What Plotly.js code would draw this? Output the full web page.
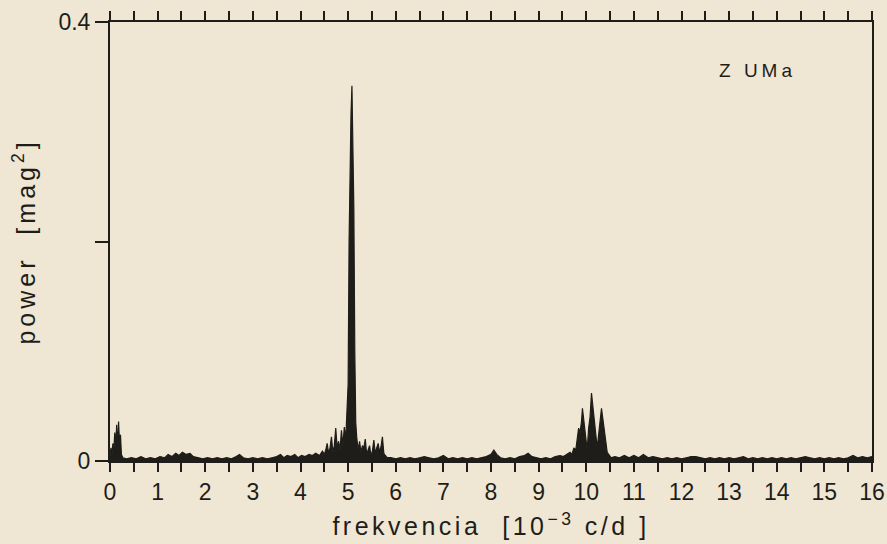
<!DOCTYPE html>
<html>
<head>
<meta charset="utf-8">
<script src="https://cdn.plot.ly/plotly-3.0.1.min.js"></script>
<style>
  html, body { margin: 0; padding: 0; background: #efe7d3; }
  #chart { width: 887px; height: 544px; }
</style>
</head>
<body>
<div id="chart"></div>
<script>
// Frequency [10^-3 c/d]
const freq = [
  0.00,0.02,0.04,0.06,0.08,0.10,0.12,0.14,0.16,0.18,0.20,0.22,0.24,0.27,
  0.35,0.45,0.55,0.65,0.75,0.85,0.95,1.05,1.15,1.22,1.30,1.38,1.45,1.52,1.60,1.68,1.75,1.85,1.95,2.05,2.15,2.25,2.35,2.45,2.55,2.65,2.72,2.80,2.90,3.00,3.10,3.20,3.30,3.40,3.50,3.58,3.65,3.72,3.80,3.88,3.95,4.02,4.10,4.18,4.25,4.32,4.40,4.46,
  4.50,4.53,4.56,4.59,4.62,4.65,4.68,4.71,4.74,4.77,4.80,4.83,4.86,4.89,4.92,4.95,4.98,
  5.00,5.02,5.04,5.06,5.08,5.10,5.12,5.14,5.16,5.18,
  5.21,5.24,5.27,5.30,5.33,5.36,5.39,5.42,5.45,5.48,5.51,5.54,5.57,5.60,5.63,5.66,5.69,5.72,5.75,5.78,5.82,
  5.90,6.00,6.10,6.20,6.30,6.40,6.50,6.60,6.70,6.80,6.90,7.00,7.10,7.20,7.30,7.40,7.50,7.60,7.70,7.80,7.90,8.00,
  8.06,8.12,8.20,8.30,8.40,8.50,8.60,8.70,8.78,8.86,8.95,9.05,9.15,9.25,9.35,9.45,9.52,9.60,9.66,
  9.70,9.74,9.78,9.81,9.84,9.87,9.90,9.92,9.94,9.96,9.99,10.02,10.05,10.08,10.11,10.14,10.17,10.20,10.23,10.26,10.29,10.32,10.35,10.38,10.41,10.44,10.48,10.52,
  10.60,10.70,10.80,10.90,11.00,11.10,11.20,11.30,11.40,11.50,11.60,11.70,11.80,11.90,12.00,12.10,12.20,12.30,12.40,12.50,12.60,12.70,12.80,12.90,13.00,
  13.10,13.20,13.30,13.40,13.50,13.60,13.70,13.80,13.90,14.00,14.10,14.20,14.30,14.40,14.50,14.60,14.70,14.80,14.90,15.00,15.10,15.20,15.30,15.40,15.50,15.60,15.70,15.80,15.90,16.00
];

// Power [mag^2]
const power = [
  0.004,0.012,0.006,0.016,0.009,0.026,0.014,0.033,0.012,0.036,0.016,0.024,0.006,0.003,
  0.002,0.003,0.002,0.004,0.002,0.003,0.002,0.004,0.003,0.006,0.004,0.007,0.005,0.008,0.006,0.007,0.004,0.003,0.002,0.003,0.002,0.003,0.002,0.003,0.002,0.004,0.006,0.003,0.002,0.003,0.002,0.003,0.002,0.003,0.004,0.006,0.003,0.005,0.004,0.006,0.003,0.005,0.004,0.006,0.005,0.007,0.005,0.009,
  0.006,0.010,0.016,0.007,0.012,0.022,0.008,0.014,0.030,0.012,0.018,0.010,0.028,0.014,0.031,0.020,0.045,
  0.070,0.200,0.280,0.315,0.342,0.300,0.230,0.100,0.035,0.022,
  0.010,0.018,0.008,0.014,0.012,0.020,0.006,0.010,0.014,0.005,0.009,0.019,0.007,0.012,0.016,0.008,0.013,0.022,0.007,0.005,0.003,
  0.003,0.002,0.003,0.002,0.003,0.002,0.003,0.004,0.003,0.002,0.003,0.005,0.002,0.003,0.002,0.003,0.002,0.003,0.002,0.003,0.004,0.006,
  0.010,0.006,0.003,0.002,0.003,0.002,0.004,0.005,0.007,0.004,0.003,0.002,0.003,0.002,0.004,0.005,0.004,0.006,0.008,
  0.006,0.012,0.010,0.022,0.030,0.026,0.036,0.048,0.040,0.030,0.016,0.010,0.030,0.040,0.062,0.050,0.042,0.028,0.012,0.024,0.036,0.048,0.038,0.030,0.018,0.008,0.005,0.003,
  0.004,0.003,0.005,0.003,0.005,0.003,0.006,0.003,0.004,0.003,0.002,0.003,0.002,0.003,0.002,0.003,0.004,0.004,0.003,0.002,0.003,0.002,0.003,0.002,0.003,
  0.002,0.003,0.004,0.002,0.003,0.002,0.003,0.002,0.003,0.002,0.003,0.002,0.003,0.002,0.003,0.004,0.003,0.002,0.003,0.002,0.003,0.002,0.003,0.002,0.003,0.005,0.003,0.004,0.003,0.004
];

const xTickVals = [0,1,2,3,4,5,6,7,8,9,10,11,12,13,14,15,16];
const xTickText = ['0','1','2','3','4','5','6','7','8','9','10','11','12','13','14','15','16'];
const xMinorVals = [0.5,1.5,2.5,3.5,4.5,5.5,6.5,7.5,8.5,9.5,10.5,11.5,12.5,13.5,14.5,15.5];
const yTickVals = [0, 0.4];
const yTickText = ['0', '0.4'];
const yMinorVals = [0.2];
const starLabel = 'Z UMa';

const ink = '#1f1d1a';
const paper = '#efe7d3';
const fontFam = '"Liberation Sans", Arial, Helvetica, sans-serif';

const trace = {
  x: freq, y: power, type: 'scatter', mode: 'lines',
  line: { color: ink, width: 1.2 },
  fill: 'tozeroy', fillcolor: ink,
  hoverinfo: 'skip', showlegend: false
};

const layout = {
  width: 887, height: 544,
  margin: { l: 110, r: 15, t: 22, b: 83 },
  paper_bgcolor: paper, plot_bgcolor: paper,
  font: { family: fontFam, color: ink },
  showlegend: false,
  xaxis: {
    range: [0, 16], tickmode: 'array', tickvals: xTickVals, ticktext: xTickText,
    ticks: 'outside', ticklen: 9, tickwidth: 2, tickcolor: ink,
    minor: { tickmode: 'array', tickvals: xMinorVals, ticks: 'outside', ticklen: 9, tickwidth: 2, tickcolor: ink, showgrid: false },
    showline: true, linewidth: 2, linecolor: ink, mirror: 'ticks',
    showgrid: false, zeroline: false,
    tickfont: { size: 23, family: fontFam, color: ink },
    title: { text: 'frekvencia  [10<sup>−3</sup> c/d ]', font: { size: 25, family: fontFam, color: ink }, standoff: 14 }
  },
  yaxis: {
    range: [0, 0.4], tickmode: 'array', tickvals: yTickVals, ticktext: yTickText,
    ticks: 'outside', ticklen: 13, tickwidth: 2, tickcolor: ink,
    minor: { tickmode: 'array', tickvals: yMinorVals, ticks: 'outside', ticklen: 13, tickwidth: 2, tickcolor: ink, showgrid: false },
    showline: true, linewidth: 2, linecolor: ink, mirror: true,
    showgrid: false, zeroline: false,
    tickfont: { size: 23, family: fontFam, color: ink },
    title: { text: 'power  [mag<sup>2</sup>]', font: { size: 25, family: fontFam, color: ink }, standoff: 16 }
  },
  annotations: [{
    x: 13.59, y: 0.356, xref: 'x', yref: 'y', text: starLabel, showarrow: false,
    font: { size: 19, family: fontFam, color: ink }, xanchor: 'center', yanchor: 'middle'
  }]
};

Plotly.newPlot('chart', [trace], layout, { displayModeBar: false, staticPlot: true }).then(function () {
  document.querySelectorAll('.xtitle').forEach(function (el) { el.style.letterSpacing = '3.5px'; });
  document.querySelectorAll('.ytitle').forEach(function (el) { el.style.letterSpacing = '4px'; });
  document.querySelectorAll('.annotation-text').forEach(function (el) { el.style.letterSpacing = '4px'; });
});
</script>
</body>
</html>
